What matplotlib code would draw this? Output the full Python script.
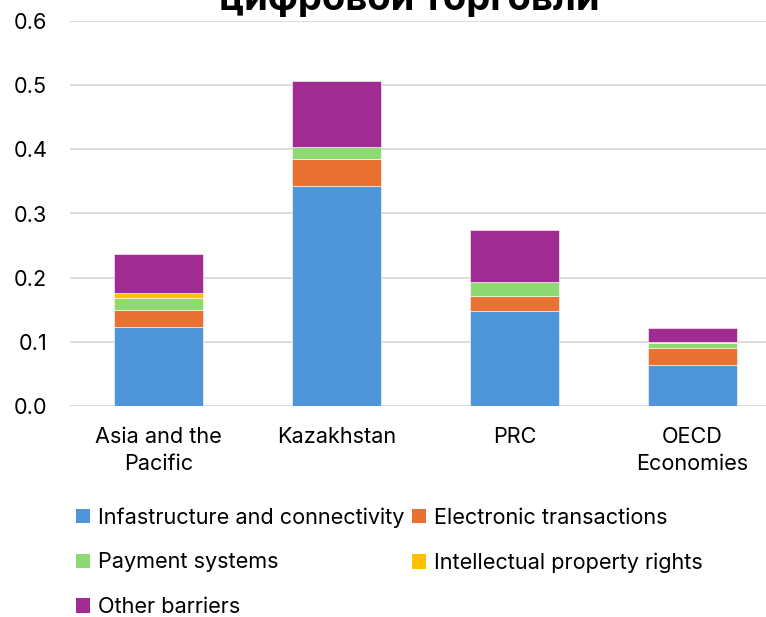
import matplotlib
matplotlib.use("Agg")
import matplotlib.pyplot as plt
from matplotlib.patches import Patch
import numpy as np

categories = ["Asia and the\nPacific", "Kazakhstan", "PRC", "OECD\nEconomies"]
series_names = ["Infastructure and connectivity", "Electronic transactions",
                "Payment systems", "Intellectual property rights", "Other barriers"]
infrastructure = [0.123, 0.343, 0.148, 0.064]
electronic = [0.027, 0.042, 0.023, 0.027]
payment = [0.018, 0.019, 0.022, 0.007]
ip_rights = [0.0075, 0.0, 0.0, 0.001]
other = [0.061, 0.102, 0.082, 0.023]
colors = ["#4E95D9", "#E97132", "#8ED973", "#FFC000", "#A02B93"]
yticks = [0.0, 0.1, 0.2, 0.3, 0.4, 0.5, 0.6]

plt.rcParams['font.family'] = ['Inter', 'DejaVu Sans']
FS = 15.6

fig = plt.figure(figsize=(7.66, 6.17), dpi=100)
ax = fig.add_axes([69.5/766, 211/617, 712/766, 385/617])

series = [infrastructure, electronic, payment, ip_rights, other]
x = np.arange(len(categories))
bottom = np.zeros(len(categories))
handles = []
for name, vals, c in zip(series_names, series, colors):
    ax.bar(x, vals, 0.5, bottom=bottom, color=c, edgecolor="white", linewidth=0.4, zorder=3)
    bottom += np.array(vals)
    handles.append(Patch(facecolor=c, edgecolor="none", label=name))

ax.set_xlim(-0.5, 3.5)
ax.set_ylim(0, 0.6)
ax.set_yticks(yticks)
ax.set_yticklabels([f"{t:.1f}" for t in yticks], fontsize=FS, color="#000000")
ax.set_xticks(x)
ax.set_xticklabels(categories, fontsize=FS, linespacing=1.45, color="#000000")
ax.tick_params(axis="both", length=0)
ax.tick_params(axis="y", pad=16)
ax.tick_params(axis="x", pad=15)
ax.yaxis.grid(True, color="#D9D9D9", linewidth=1.3, zorder=0)
for s in ax.spines.values():
    s.set_visible(False)

fig.text(0.535, 1 - 10/617, "цифровой торговли", ha="center", va="baseline",
         fontsize=27.5, fontweight="bold")

order = [0, 2, 4, 1, 3]
leg = fig.legend([handles[i] for i in order], [series_names[i] for i in order],
                 ncol=2, loc="upper left", bbox_to_anchor=(76/766, 1 - 507/617),
                 frameon=False, fontsize=FS, handlelength=0.65, handleheight=0.65,
                 handletextpad=0.35, columnspacing=0.38, labelspacing=1.15,
                 borderpad=0, borderaxespad=0)

fig.savefig("out.png", dpi=100)
